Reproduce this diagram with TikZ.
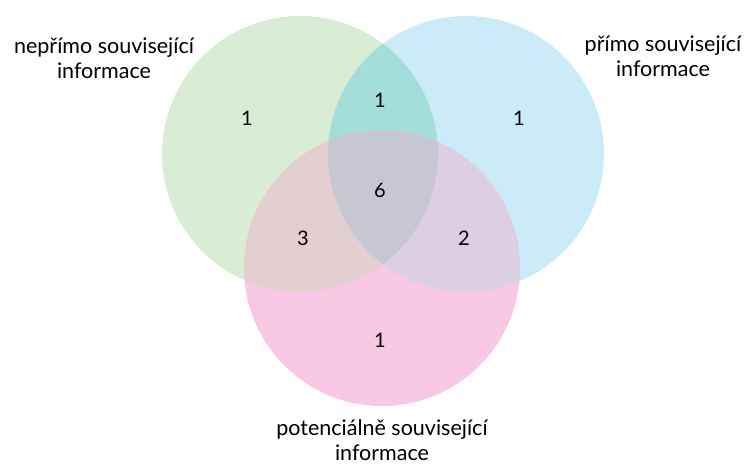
\documentclass[tikz,border=0pt]{standalone}
\usepackage{fontspec}
\setmainfont{Lato}
\usepackage{xcolor}
\definecolor{zelena}{HTML}{D9EDD5}
\definecolor{modra}{HTML}{CCEBF8}
\definecolor{ruzova}{HTML}{F8C8E5}
\definecolor{zelmod}{HTML}{A3DEDB}
\definecolor{zelruz}{HTML}{E4CFD0}
\definecolor{modruz}{HTML}{DCCFE4}
\definecolor{stred}{HTML}{C7C7D1}
\tikzset{
    popis/.style={align=center, inner sep=0pt, font=\fontsize{21.5}{25}\selectfont},
    cislo/.style={font=\fontsize{20}{22}\selectfont}
}

\begin{document}
\begin{tikzpicture}[x=1pt, y=-1pt]
    \useasboundingbox (0,0) rectangle (748,465);
    \def\r{138}
    \coordinate (G) at (300,154);
    \coordinate (B) at (466,154);
    \coordinate (P) at (382,268);

    \fill[zelena] (G) circle (\r);
    \fill[modra] (B) circle (\r);
    \fill[ruzova] (P) circle (\r);
    \begin{scope}
        \clip (G) circle (\r);
        \fill[zelmod] (B) circle (\r);
        \fill[zelruz] (P) circle (\r);
    \end{scope}
    \begin{scope}
        \clip (B) circle (\r);
        \fill[modruz] (P) circle (\r);
        \clip (G) circle (\r);
        \fill[stred] (P) circle (\r);
    \end{scope}

    \node[cislo] (g) at (247,118) {1};
    \node[cislo] (b) at (519,118) {1};
    \node[cislo] (p) at (380,340) {1};
    \node[cislo] (gb) at (380,100) {1};
    \node[cislo] (gp) at (303,238) {3};
    \node[cislo] (bp) at (464,238) {2};
    \node[cislo] (gbp) at (380,190) {6};

    \node[popis] (lg) at (104,58) {nepřímo související\\informace};
    \node[popis] (lb) at (663,56) {přímo související\\informace};
    \node[popis] (lp) at (382,440) {potenciálně související\\informace};
\end{tikzpicture}
\end{document}
